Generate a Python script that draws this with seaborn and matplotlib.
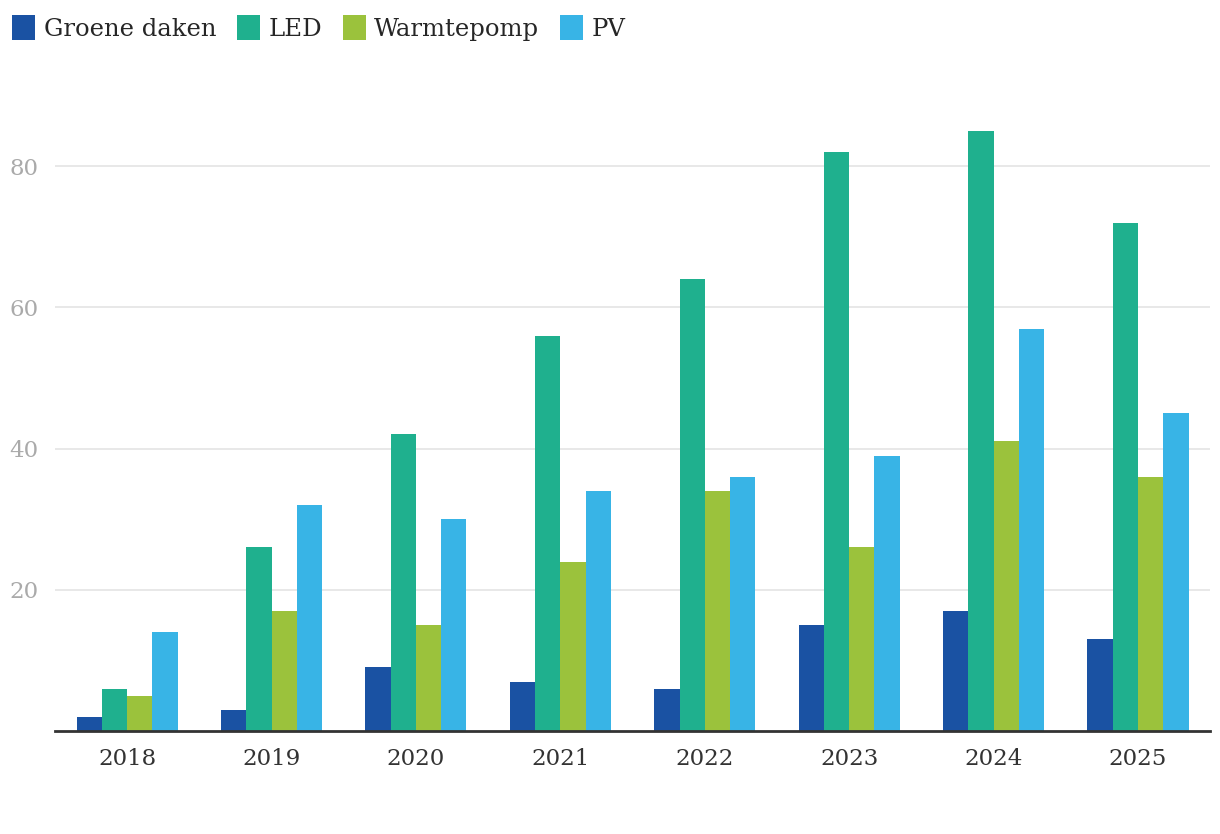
import pandas as pd
import seaborn as sns
import matplotlib.pyplot as plt

years = ["2018", "2019", "2020", "2021", "2022", "2023", "2024", "2025"]
groene_daken = [2, 3, 9, 7, 6, 15, 17, 13]
led = [6, 26, 42, 56, 64, 82, 85, 72]
warmtepomp = [5, 17, 15, 24, 34, 26, 41, 36]
pv = [14, 32, 30, 34, 36, 39, 57, 45]

series = ["Groene daken", "LED", "Warmtepomp", "PV"]
colors = ["#1a52a3", "#1fb08e", "#9bc23c", "#38b4e6"]

df = pd.DataFrame({
    "jaar": years * 4,
    "waarde": groene_daken + led + warmtepomp + pv,
    "type": [s for s in series for _ in years],
})

sns.set_style("white")
plt.rcParams["font.family"] = ["DejaVu Serif"]

fig = plt.figure(figsize=(12.2, 8.34), dpi=100)
ax = fig.add_axes([0.045, 0.1235, 0.947, 0.762])

sns.barplot(data=df, x="jaar", y="waarde", hue="type", palette=colors,
            saturation=1, width=0.7, linewidth=0, ax=ax, legend=True)

ax.set_xlim(-0.5, 7.5)
ax.set_ylim(0, 90)
ax.set_yticks([20, 40, 60, 80])
ax.set_xlabel("")
ax.set_ylabel("")
ax.grid(axis="y", color="#e6e6e6", linewidth=1.3)
ax.set_axisbelow(True)
for s in ["top", "right", "left"]:
    ax.spines[s].set_visible(False)
ax.spines["bottom"].set_color("#333333")
ax.spines["bottom"].set_linewidth(2)
ax.tick_params(axis="y", length=0, pad=12, labelsize=16.5, labelcolor="#aaaaaa")
ax.tick_params(axis="x", length=0, pad=12, labelsize=16.5, labelcolor="#333333")

handles, labels = ax.get_legend_handles_labels()
ax.get_legend().remove()
fig.legend(handles, labels, loc="upper left", bbox_to_anchor=(-0.004, 1.003),
           ncol=4, frameon=False, fontsize=17.5, handlelength=0.95, handleheight=1.25,
           handletextpad=0.35, columnspacing=0.85, borderaxespad=0.3)

fig.savefig("out.png", dpi=100)
